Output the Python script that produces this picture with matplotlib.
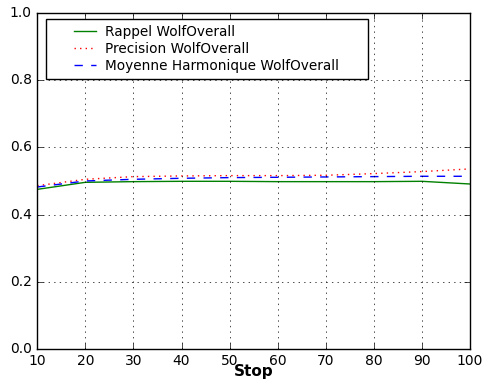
import matplotlib as mpl
mpl.use('Agg')
import matplotlib.pyplot as plt
from matplotlib.legend_handler import HandlerLine2D

plt.style.use('classic')
mpl.rcParams.update({'font.size': 10, 'font.family': 'DejaVu Sans'})

stops = [10, 20, 30, 40, 50, 60, 70, 80, 90, 100]
rappel = [0.475, 0.496, 0.498, 0.499, 0.499, 0.498, 0.498, 0.498, 0.499, 0.491]
precision = [0.486, 0.505, 0.513, 0.515, 0.516, 0.516, 0.517, 0.522, 0.528, 0.536]
harmonique = [0.482, 0.500, 0.505, 0.508, 0.510, 0.511, 0.512, 0.513, 0.514, 0.514]


class RightHandler(HandlerLine2D):
    # old-style legend: short line drawn in the right half of the handle box
    def get_xdata(self, legend, xdescent, ydescent, width, height, fontsize):
        xs = [-xdescent + width * 0.5, -xdescent + width]
        return xs, xs


fig = plt.figure(figsize=(4.84, 3.81), dpi=100)
ax = fig.add_axes([0.077, 0.085, 0.894, 0.88])
l1, = ax.plot(stops, rappel, 'g-', lw=1, label="Rappel WolfOverall")
l2, = ax.plot(stops, precision, 'r:', lw=1, label="Precision WolfOverall")
l3, = ax.plot(stops, harmonique, 'b--', lw=1, label="Moyenne Harmonique WolfOverall")
ax.set_xlim(10, 100)
ax.set_ylim(0.0, 1.0)
ax.set_xticks(stops)
ax.set_yticks([0.0, 0.2, 0.4, 0.6, 0.8, 1.0])
ax.grid(True)
ax.set_xlabel("Stop", fontweight='bold', fontsize=11)
ax.xaxis.set_label_coords(0.5, -0.047)

h = RightHandler()
leg = ax.legend(loc='upper left', bbox_to_anchor=(0.02, 0.0, 0.744, 0.983), mode='expand',
                borderaxespad=0, fontsize=9.8, handlelength=3.25, handletextpad=0.65,
                borderpad=0.45, labelspacing=0.2, fancybox=False,
                handler_map={l1: h, l2: h, l3: h})
leg.get_frame().set_edgecolor('black')
plt.savefig("out.png", dpi=100)
